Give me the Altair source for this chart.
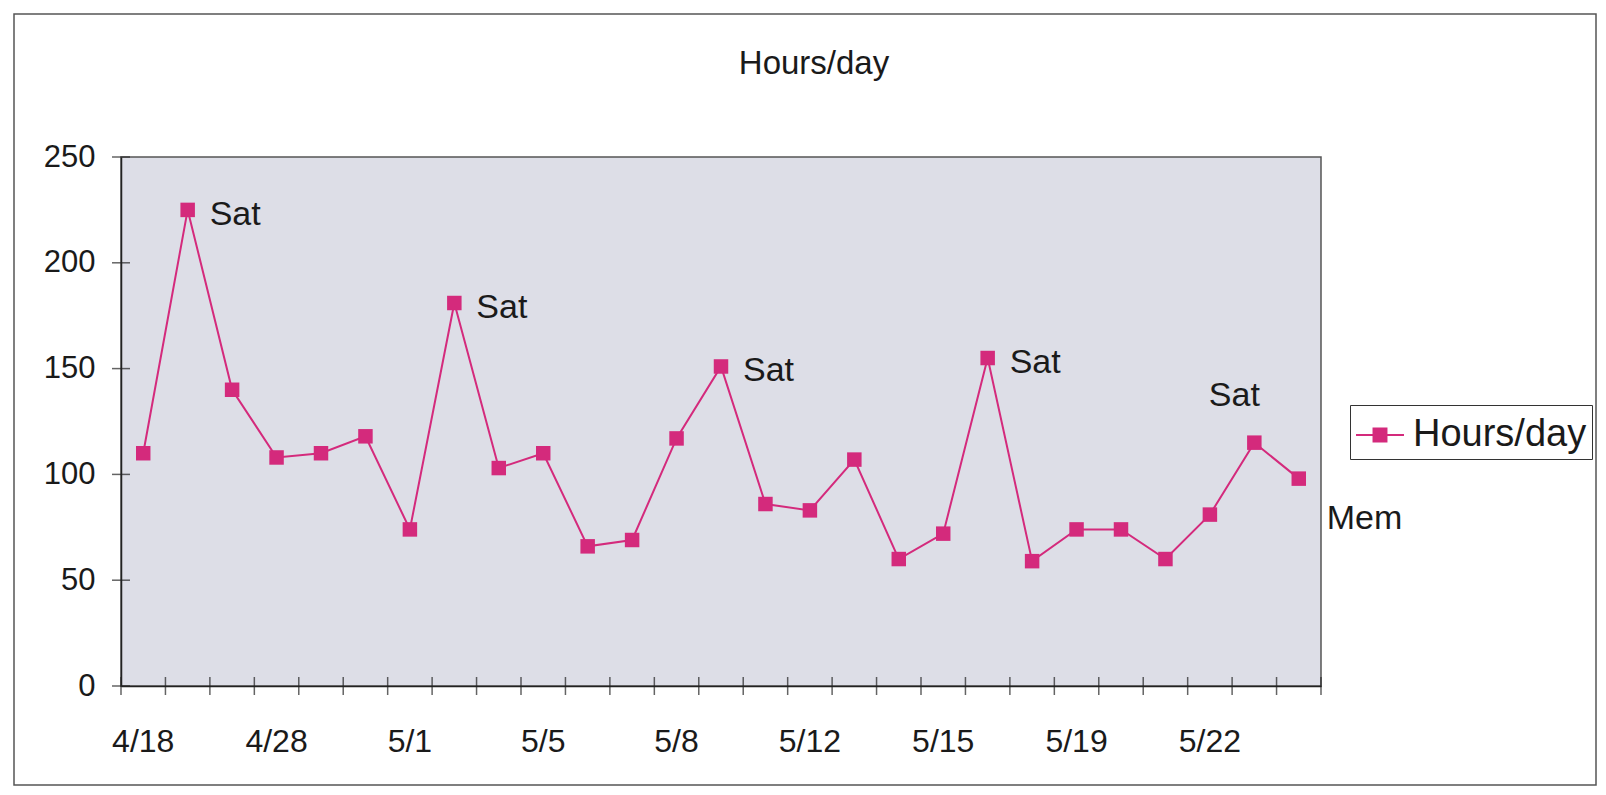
import altair as alt
import pandas as pd

# ---- data ----
hours = [110, 225, 140, 108, 110, 118, 74, 181, 103, 110, 66, 69, 117, 151,
         86, 83, 107, 60, 72, 155, 59, 74, 74, 60, 81, 115, 98]
tick_labels = ["4/18", "4/28", "5/1", "5/5", "5/8", "5/12", "5/15", "5/19", "5/22"]
label_every = 3
y_ticks = [0, 50, 100, 150, 200, 250]
sat_right = [1, 7, 13, 19]      # "Sat" labels right of the point
sat_above = [25]                # "Sat" label above the point
mem_below = [26]                # "Mem" label below-right of the point
series_name = "Hours/day"
chart_title = "Hours/day"

PINK = "#d42a7c"
FONT = "Liberation Sans"
W, H = 1200, 529
n = len(hours)

df = pd.DataFrame({
    "pos": [i + 0.5 for i in range(n)],
    "hours": hours,
    "series": [series_name] * n,
})
df_bound = pd.DataFrame({"b": list(range(n + 1))})
df_yt = pd.DataFrame({"t": y_ticks})
df_lab = pd.DataFrame({
    "pos": [i * label_every + 0.5 for i in range(len(tick_labels))],
    "label": tick_labels,
})

def note_df(idx, text):
    return pd.DataFrame({"pos": [i + 0.5 for i in idx],
                         "hours": [hours[i] for i in idx],
                         "txt": [text] * len(idx)})

x_axis = alt.Axis(values=list(range(n + 1)), labels=False, title=None, grid=False,
                  ticks=False, domainColor="#222", domainWidth=1.5)
y_axis = alt.Axis(values=y_ticks, title=None, grid=False, ticks=False,
                  domainColor="#222", domainWidth=1.5, labelFontSize=31,
                  labelFont=FONT, labelColor="#1a1a1a", labelPadding=26)
xs = alt.Scale(domain=[0, n], nice=False, zero=False)
ys = alt.Scale(domain=[0, 250], nice=False)

frame = alt.Chart(pd.DataFrame({"a": [0]})).mark_rect(
    fillOpacity=0, stroke="#555", strokeWidth=1.5
).encode(x=alt.value(-107), x2=alt.value(1475), y=alt.value(-143), y2=alt.value(628))

title = alt.Chart(pd.DataFrame({"t": [chart_title]})).mark_text(
    fontSize=33, font=FONT, color="#1a1a1a", baseline="middle", align="center"
).encode(x=alt.value(693), y=alt.value(-93), text="t:N")

line = alt.Chart(df).mark_line(color=PINK, strokeWidth=2).encode(
    x=alt.X("pos:Q", scale=xs, axis=x_axis),
    y=alt.Y("hours:Q", scale=ys, axis=y_axis),
)

legend_symbol = "M-1,0H1M-0.27,-0.27H0.27V0.27H-0.27Z"
pts = alt.Chart(df).mark_square(size=210, opacity=1).encode(
    x=alt.X("pos:Q", scale=xs, axis=x_axis),
    y=alt.Y("hours:Q", scale=ys, axis=y_axis),
    color=alt.Color("series:N", scale=alt.Scale(range=[PINK]),
                    legend=alt.Legend(title=None, orient="none", legendX=1229, legendY=248,
                                      symbolType=legend_symbol, symbolSize=2300,
                                      symbolStrokeColor=PINK, symbolStrokeWidth=2,
                                      symbolFillColor=PINK,
                                      labelFontSize=38, labelFont=FONT, labelColor="#1a1a1a",
                                      labelLimit=400, labelOffset=8, padding=5,
                                      strokeColor="#333", fillColor="white")),
)

xticks = alt.Chart(df_bound).mark_tick(color="#222", thickness=1.5, size=18,
                                       orient="vertical").encode(
    x=alt.X("b:Q", scale=xs, axis=x_axis), y=alt.value(H))
yticks = alt.Chart(df_yt).mark_tick(color="#222", thickness=1.5, size=18,
                                    orient="horizontal").encode(
    y=alt.Y("t:Q", scale=ys, axis=y_axis), x=alt.value(0))

dates = alt.Chart(df_lab).mark_text(fontSize=32, font=FONT, color="#1a1a1a",
                                    baseline="middle").encode(
    x=alt.X("pos:Q", scale=xs, axis=x_axis), y=alt.value(H + 56), text="label:N")

def note_layer(d, **kw):
    return alt.Chart(d).mark_text(fontSize=34, font=FONT, color="#1a1a1a",
                                  baseline="middle", **kw).encode(
        x=alt.X("pos:Q", scale=xs, axis=x_axis),
        y=alt.Y("hours:Q", scale=ys, axis=y_axis), text="txt:N")

n1 = note_layer(note_df(sat_right, "Sat"), align="left", dx=22, dy=5)
n2 = note_layer(note_df(sat_above, "Sat"), align="center", dx=-20, dy=-47)
n3 = note_layer(note_df(mem_below, "Mem"), align="left", dx=28, dy=40)

chart = alt.layer(frame, title, line, pts, xticks, yticks, dates, n1, n2, n3).properties(
    width=W, height=H,
    padding={"left": 113, "top": 149, "right": 277, "bottom": 101},
    autosize=alt.AutoSizeParams(type="none"),
).configure(background="white").configure_view(fill="#dddee7", stroke="#555", strokeWidth=1.5)

chart.save("out.html", embed_options={"renderer": "svg", "actions": False})
